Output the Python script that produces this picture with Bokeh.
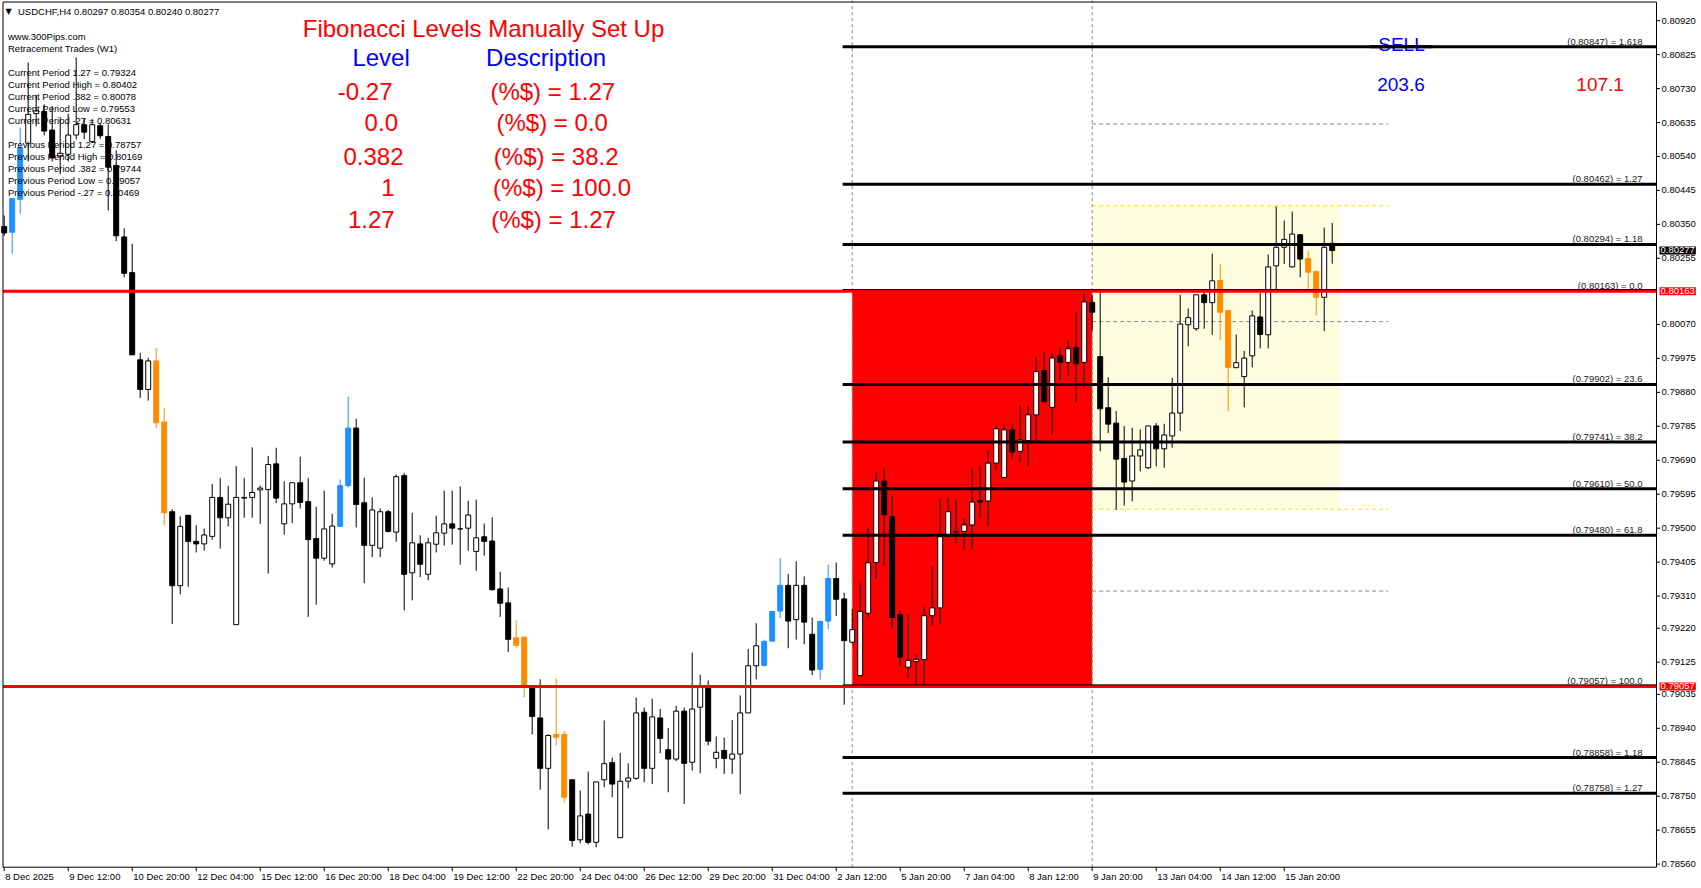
import numpy as np
from bokeh.plotting import figure
from bokeh.models import Range1d, Label, ColumnDataSource
from bokeh.embed import file_html
from bokeh.resources import INLINE

# ---------------- data ----------------
opens = [0.80344, 0.80328, 0.80420, 0.80577, 0.80660, 0.80666, 0.80614, 0.80541, 0.80546, 0.80600,
         0.80629, 0.80582, 0.80626, 0.80596, 0.80515, 0.80315, 0.80215, 0.79971, 0.79888, 0.79968,
         0.79797, 0.79546, 0.79339, 0.79536, 0.79463, 0.79456, 0.79477, 0.79586, 0.79529, 0.79230,
         0.79584, 0.79586, 0.79607, 0.79608, 0.79680, 0.79512, 0.79568, 0.79627, 0.79574, 0.79471,
         0.79416, 0.79400, 0.79505, 0.79619, 0.79780, 0.79571, 0.79452, 0.79444, 0.79546, 0.79489,
         0.79647, 0.79375, 0.79456, 0.79371, 0.79455, 0.79486, 0.79512, 0.79498, 0.79500, 0.79435,
         0.79476, 0.79464, 0.79330, 0.79291, 0.79193, 0.79195, 0.79055, 0.78969, 0.78828, 0.78923,
         0.78923, 0.78796, 0.78628, 0.78700, 0.78621, 0.78796, 0.78844, 0.78634, 0.78792, 0.78800,
         0.78985, 0.78828, 0.78969, 0.78880, 0.78854, 0.78988, 0.78845, 0.78999, 0.79055, 0.78856,
         0.78878, 0.78854, 0.78868, 0.78983, 0.79115, 0.79116, 0.79184, 0.79268, 0.79340, 0.79244,
         0.79340, 0.79203, 0.79105, 0.79240, 0.79359, 0.79302, 0.79181, 0.79088, 0.79262, 0.79404,
         0.79632, 0.79532, 0.79258, 0.79111, 0.79127, 0.79132, 0.79255, 0.79277, 0.79476, 0.79491,
         0.79491, 0.79509, 0.79577, 0.79576, 0.79682, 0.79642, 0.79775, 0.79715, 0.79745, 0.79817,
         0.79941, 0.79838, 0.79982, 0.79964, 0.80005, 0.79964, 0.80132, 0.79980, 0.79837, 0.79794,
         0.79695, 0.79632, 0.79702, 0.79669, 0.79786, 0.79722, 0.79758, 0.79822, 0.80069, 0.80058,
         0.80153, 0.80131, 0.80193, 0.80109, 0.79949, 0.79924, 0.79982, 0.80091, 0.80041, 0.80234,
         0.80286, 0.80231, 0.80321, 0.80254, 0.80218, 0.80146, 0.80297]
highs = [0.80375, 0.80422, 0.80621, 0.80803, 0.80712, 0.80686, 0.80681, 0.80650, 0.80660, 0.80817,
         0.80645, 0.80645, 0.80634, 0.80629, 0.80557, 0.80339, 0.80296, 0.79991, 0.79976, 0.80005,
         0.79836, 0.79553, 0.79533, 0.79536, 0.79508, 0.79499, 0.79624, 0.79640, 0.79618, 0.79674,
         0.79640, 0.79726, 0.79619, 0.79702, 0.79725, 0.79631, 0.79627, 0.79700, 0.79640, 0.79560,
         0.79605, 0.79540, 0.79636, 0.79868, 0.79806, 0.79641, 0.79586, 0.79555, 0.79551, 0.79650,
         0.79655, 0.79543, 0.79480, 0.79473, 0.79535, 0.79605, 0.79605, 0.79617, 0.79577, 0.79580,
         0.79513, 0.79530, 0.79378, 0.79334, 0.79242, 0.79197, 0.79057, 0.79077, 0.78923, 0.79080,
         0.78932, 0.78796, 0.78766, 0.78819, 0.78790, 0.78962, 0.78858, 0.78871, 0.78842, 0.79026,
         0.78998, 0.79023, 0.78994, 0.78941, 0.79003, 0.78998, 0.79152, 0.79090, 0.79074, 0.78917,
         0.78914, 0.78963, 0.79032, 0.79162, 0.79234, 0.79188, 0.79267, 0.79416, 0.79372, 0.79407,
         0.79365, 0.79250, 0.79242, 0.79398, 0.79404, 0.79319, 0.79274, 0.79346, 0.79502, 0.79659,
         0.79667, 0.79589, 0.79270, 0.79258, 0.79146, 0.79279, 0.79392, 0.79583, 0.79585, 0.79580,
         0.79528, 0.79670, 0.79675, 0.79719, 0.79785, 0.79792, 0.79790, 0.79843, 0.79843, 0.79979,
         0.79991, 0.79991, 0.80003, 0.80025, 0.80104, 0.80156, 0.80151, 0.80169, 0.79922, 0.79828,
         0.79786, 0.79781, 0.79776, 0.79786, 0.79794, 0.79792, 0.79921, 0.80153, 0.80115, 0.80153,
         0.80165, 0.80268, 0.80238, 0.80109, 0.80042, 0.79996, 0.80109, 0.80158, 0.80266, 0.80400,
         0.80361, 0.80386, 0.80323, 0.80277, 0.80221, 0.80341, 0.80354]
lows = [0.80318, 0.80268, 0.80380, 0.80526, 0.80624, 0.80599, 0.80526, 0.80490, 0.80526, 0.80588,
        0.80588, 0.80577, 0.80589, 0.80389, 0.80303, 0.80202, 0.79985, 0.79864, 0.79857, 0.79779,
        0.79507, 0.79232, 0.79315, 0.79336, 0.79432, 0.79437, 0.79468, 0.79443, 0.79505, 0.79230,
        0.79529, 0.79529, 0.79512, 0.79373, 0.79570, 0.79482, 0.79514, 0.79555, 0.79252, 0.79286,
        0.79409, 0.79390, 0.79505, 0.79614, 0.79502, 0.79346, 0.79419, 0.79419, 0.79488, 0.79462,
        0.79270, 0.79298, 0.79363, 0.79354, 0.79432, 0.79451, 0.79454, 0.79398, 0.79437, 0.79381,
        0.79423, 0.79325, 0.79252, 0.79153, 0.79164, 0.79027, 0.78923, 0.78768, 0.78657, 0.78892,
        0.78733, 0.78609, 0.78618, 0.78615, 0.78607, 0.78775, 0.78747, 0.78634, 0.78772, 0.78796,
        0.78789, 0.78784, 0.78870, 0.78761, 0.78848, 0.78728, 0.78822, 0.78814, 0.78892, 0.78828,
        0.78812, 0.78812, 0.78756, 0.78983, 0.79077, 0.79113, 0.79184, 0.79248, 0.79164, 0.79188,
        0.79175, 0.79089, 0.79076, 0.79217, 0.79254, 0.79006, 0.79177, 0.79083, 0.79252, 0.79358,
        0.79395, 0.79218, 0.79113, 0.79081, 0.79060, 0.79060, 0.79227, 0.79232, 0.79476, 0.79458,
        0.79439, 0.79441, 0.79528, 0.79505, 0.79663, 0.79640, 0.79692, 0.79684, 0.79673, 0.79745,
        0.79852, 0.79762, 0.79913, 0.79927, 0.79852, 0.79891, 0.80053, 0.79715, 0.79766, 0.79551,
        0.79563, 0.79575, 0.79659, 0.79665, 0.79673, 0.79669, 0.79725, 0.79772, 0.80009, 0.80052,
        0.80058, 0.80041, 0.80026, 0.79827, 0.79949, 0.79838, 0.79950, 0.80003, 0.80003, 0.80165,
        0.80239, 0.80229, 0.80202, 0.80165, 0.80095, 0.80051, 0.80240]
closes = [0.80326, 0.80422, 0.80565, 0.80658, 0.80668, 0.80611, 0.80536, 0.80549, 0.80600, 0.80629,
          0.80608, 0.80629, 0.80598, 0.80510, 0.80318, 0.80213, 0.79985, 0.79888, 0.79968, 0.79795,
          0.79543, 0.79339, 0.79505, 0.79463, 0.79456, 0.79481, 0.79586, 0.79529, 0.79567, 0.79586,
          0.79586, 0.79600, 0.79612, 0.79678, 0.79584, 0.79568, 0.79627, 0.79572, 0.79468, 0.79416,
          0.79498, 0.79506, 0.79619, 0.79780, 0.79566, 0.79452, 0.79551, 0.79546, 0.79491, 0.79644,
          0.79371, 0.79459, 0.79399, 0.79459, 0.79487, 0.79512, 0.79500, 0.79498, 0.79537, 0.79473,
          0.79463, 0.79328, 0.79290, 0.79189, 0.79172, 0.79055, 0.78973, 0.78828, 0.78920, 0.78915,
          0.78747, 0.78626, 0.78695, 0.78621, 0.78790, 0.78841, 0.78784, 0.78792, 0.78801, 0.78983,
          0.78828, 0.78972, 0.78912, 0.78854, 0.78988, 0.78842, 0.78994, 0.79055, 0.78904, 0.78873,
          0.78856, 0.78868, 0.78983, 0.79115, 0.79171, 0.79183, 0.79267, 0.79340, 0.79240, 0.79340,
          0.79237, 0.79103, 0.79239, 0.79359, 0.79301, 0.79185, 0.79216, 0.79267, 0.79403, 0.79632,
          0.79538, 0.79250, 0.79139, 0.79130, 0.79133, 0.79255, 0.79277, 0.79476, 0.79546, 0.79489,
          0.79509, 0.79573, 0.79573, 0.79682, 0.79778, 0.79775, 0.79713, 0.79747, 0.79817, 0.79938,
          0.79854, 0.79976, 0.79964, 0.80002, 0.79960, 0.80133, 0.80104, 0.79834, 0.79791, 0.79693,
          0.79629, 0.79702, 0.79719, 0.79786, 0.79722, 0.79761, 0.79822, 0.80071, 0.80089, 0.80153,
          0.80131, 0.80192, 0.80104, 0.79950, 0.79963, 0.79976, 0.80094, 0.80042, 0.80231, 0.80286,
          0.80308, 0.80323, 0.80253, 0.80216, 0.80146, 0.80286, 0.80277]

# bars drawn in the highlight colours (blue when rising, orange when falling)
highlight_bars = [1, 2, 19, 20, 42, 43, 64, 65, 69, 70, 95, 96, 97, 102, 103, 152, 153, 163, 164]

date_label_bars = list(range(0, 161, 8))
date_labels = ["8 Dec 2025", "9 Dec 12:00", "10 Dec 20:00", "12 Dec 04:00", "15 Dec 12:00",
               "16 Dec 20:00", "18 Dec 04:00", "19 Dec 12:00", "22 Dec 20:00", "24 Dec 04:00",
               "26 Dec 12:00", "29 Dec 20:00", "31 Dec 04:00", "2 Jan 12:00", "5 Jan 20:00",
               "7 Jan 04:00", "8 Jan 12:00", "9 Jan 20:00", "13 Jan 04:00", "14 Jan 12:00",
               "15 Jan 20:00"]

price_ticks = [0.80920, 0.80825, 0.80730, 0.80635, 0.80540, 0.80445, 0.80350, 0.80255,
               0.80070, 0.79975, 0.79880, 0.79785, 0.79690, 0.79595, 0.79500, 0.79405,
               0.79310, 0.79220, 0.79125, 0.79035, 0.78940, 0.78845, 0.78750, 0.78655, 0.78560]

fib_levels = [0.80847, 0.80462, 0.80294, 0.80163, 0.79902, 0.79741, 0.79610, 0.79480, 0.79057, 0.78858, 0.78758]
fib_names = ["1.618", "1.27", "1.18", "0.0", "23.6", "38.2", "50.0", "61.8", "100.0", "1.18", "1.27"]
fib_zero, fib_hundred = 0.80163, 0.79057

cur_names = ["1.27", "High", ".382", "Low", "-27"]
cur_values = [0.79324, 0.80402, 0.80078, 0.79553, 0.80631]
prev_names = ["1.27", "High", ".382", "Low", "-.27"]
prev_values = [0.78757, 0.80169, 0.79744, 0.79057, 0.80469]

table_levels = ["-0.27", "0.0", "0.382", "1", "1.27"]
table_desc = ["(%$) = 1.27", "(%$) = 0.0", "(%$) = 38.2", "(%$) = 100.0", "(%$) = 1.27"]

sell_values = ["203.6", "107.1"]
last_price = 0.80277

red_box_bars = [106, 136]      # bar anchors of the red zone
week_box_bars = [136, 167]     # current week zone
marker_end_bar = 173
fib_start_bar = 104.8
# ---------------------------------------------------------------

# canvas covers the terminal window 1:1 (the page has no margin)
CW, CH = 1700, 886
BAR0_PX, BAR_PX = 3.7, 8.0                 # x of first bar, bar spacing
PRICE_Y0, PRICE_PER_PX = 0.809764, 0.00002798


def px2bar(rx):
    return (rx - BAR0_PX) / BAR_PX


def py2price(ry):
    return PRICE_Y0 - ry * PRICE_PER_PX


def scr(rx, ry):
    return rx, CH - ry


X0, X1 = px2bar(0), px2bar(CW)
Y1, Y0 = py2price(0), py2price(CH)
AX = px2bar(1656)          # price-scale line
LB = px2bar(2.5)           # left border
PB = py2price(866.7)       # bottom border
PT = py2price(1.5)         # top border

p = figure(frame_width=CW, frame_height=CH, x_range=Range1d(X0, X1), y_range=Range1d(Y0, Y1),
           x_axis_location=None, y_axis_location=None, toolbar_location=None,
           output_backend="svg", min_border=0,
           background_fill_color="white", border_fill_color="white")
p.grid.visible = False
p.outline_line_color = None

SMALL = "9.5px"
FONT = "Liberation Sans"
BLUE = "#1E90FF"
ORANGE = "#FF8C00"

# zones behind the candles
p.quad(left=[week_box_bars[0]], right=[week_box_bars[1]], bottom=[cur_values[3]], top=[cur_values[1]],
       fill_color="#FFFDE0", line_color=None)
p.quad(left=[red_box_bars[0]], right=[red_box_bars[1]], bottom=[fib_hundred], top=[fib_zero],
       fill_color="#FF0000", line_color=None)

# current period markers
for name, v in zip(cur_names, cur_values):
    col = "#E8E800" if name in ("High", "Low") else "#888888"
    p.segment(x0=[week_box_bars[0]], x1=[marker_end_bar], y0=[v], y1=[v], line_color=col,
              line_width=1, line_dash="4 3")

# vertical dotted separators
for b in red_box_bars:
    p.segment(x0=[b], x1=[b], y0=[PB], y1=[Y1], line_color="#808080", line_dash="3 3", line_width=1)

# candles
O = np.array(opens); H = np.array(highs); L = np.array(lows); C = np.array(closes)
idx = np.arange(len(O))
bull = C >= O
hl = np.isin(idx, highlight_bars)
fill = np.where(hl, np.where(bull, BLUE, ORANGE), np.where(bull, "white", "black"))
line = np.where(hl, fill, "black")
src = ColumnDataSource(dict(x=idx, top=np.maximum(O, C), bottom=np.minimum(O, C), high=H, low=L,
                            fill=fill, line=line))
p.segment(x0="x", y0="low", x1="x", y1="high", line_color="line", line_width=1, source=src)
p.vbar(x="x", top="top", bottom="bottom", width=0.62, fill_color="fill", line_color="line",
       line_width=1, source=src)

# fibonacci lines (over the candles)
for lv in fib_levels:
    if lv in (fib_zero, fib_hundred):
        p.segment(x0=[LB], x1=[AX], y0=[lv], y1=[lv], line_color="#FF0000", line_width=3)
        p.segment(x0=[fib_start_bar], x1=[AX], y0=[lv + 1.6 * PRICE_PER_PX], y1=[lv + 1.6 * PRICE_PER_PX],
                  line_color="black", line_width=1)
    else:
        p.segment(x0=[fib_start_bar], x1=[AX], y0=[lv], y1=[lv], line_color="black", line_width=3)

# window borders and price scale line
p.segment(x0=[LB, LB, LB, AX], x1=[AX, AX, LB, AX], y0=[PT, PB, PB, PB], y1=[PT, PB, PT, PT],
          line_color="black", line_width=1)
# price scale ticks
tick_end = px2bar(1659.5)
p.segment(x0=[AX] * len(price_ticks), x1=[tick_end] * len(price_ticks), y0=price_ticks, y1=price_ticks,
          line_color="black", line_width=1)
# time scale ticks
tick_low = py2price(866.7 + 4)
p.segment(x0=date_label_bars, x1=date_label_bars, y0=[PB] * len(date_label_bars),
          y1=[tick_low] * len(date_label_bars), line_color="black", line_width=1)


def label(text, rx, ry, size=SMALL, color="black", align="left", baseline="middle", font=FONT):
    sx, sy = scr(rx, ry)
    p.add_layout(Label(x=sx, y=sy, x_units="screen", y_units="screen", text=text, text_font=font,
                       text_font_size=size, text_color=color, text_align=align,
                       text_baseline=baseline))


# price scale labels
lab_sx, _ = scr(1661, 0)
for t in price_ticks:
    p.add_layout(Label(x=lab_sx, x_units="screen", y=t, text=f"{t:.5f}", text_font=FONT,
                       text_font_size=SMALL, text_color="black", text_align="left",
                       text_baseline="middle"))

# time scale labels
_, date_sy = scr(0, 876)
for b, s in zip(date_label_bars, date_labels):
    p.add_layout(Label(x=b, y=date_sy, y_units="screen", text=s, text_font=FONT, text_font_size=SMALL,
                       text_color="black", text_align="left", text_baseline="middle", x_offset=1))

# fibonacci labels
fib_sx, _ = scr(1642, 0)
for lv, nm in zip(fib_levels, fib_names):
    p.add_layout(Label(x=fib_sx, x_units="screen", y=lv, text=f"({lv:.5f}) = {nm}", text_font=FONT,
                       text_font_size=SMALL, text_color="#1a1a1a", text_align="right",
                       text_baseline="bottom"))

# price tags on the scale
tag_sx, _ = scr(1659, 0)
for v, bg in ((fib_zero, "#FF0000"), (fib_hundred, "#FF0000"), (last_price, "black")):
    p.add_layout(Label(x=tag_sx, x_units="screen", y=v, text=f"{v:.5f}", text_font=FONT,
                       text_font_size=SMALL, text_color="white", text_align="left",
                       text_baseline="middle", background_fill_color=bg, padding=1))

# header and info block
label("\u25BC", 5, 11, size="8px", font="DejaVu Sans")
label(f"USDCHF,H4  {opens[-1]:.5f} {highs[-1]:.5f} {lows[-1]:.5f} {closes[-1]:.5f}", 17.5, 11)
label("www.300Pips.com", 7.5, 35.7)
label("Retracement Trades (W1)", 7.5, 47.7)
for i, (n, v) in enumerate(zip(cur_names, cur_values)):
    label(f"Current Period {n} = {v:.5f}", 7.5, 71.7 + 12 * i)
for i, (n, v) in enumerate(zip(prev_names, prev_values)):
    label(f"Previous Period {n} = {v:.5f}", 7.5, 143.7 + 12 * i)

BIG = "24px"
label("Fibonacci Levels Manually Set Up", 483, 28.3, size=BIG, color="#FF0000", align="center")
label("Level", 380.6, 57.3, size=BIG, color="#0000FF", align="center")
label("Description", 545.6, 57.3, size=BIG, color="#0000FF", align="center")
lvl_x = [364.7, 380.8, 373.0, 387.4, 370.8]
desc_x = [552.3, 551.7, 555.7, 561.5, 553.0]
row_y = [90.7, 121.7, 155.7, 186.7, 219.3]
for t, d, lx, dx, ry in zip(table_levels, table_desc, lvl_x, desc_x, row_y):
    label(t, lx, ry, size=BIG, color="#FF0000", align="center")
    label(d, dx, ry, size=BIG, color="#FF0000", align="center")

label("SELL", 1401, 43.5, size="19px", color="#0000FF", align="center")
label(sell_values[0], 1400.5, 84, size="19px", color="#0000FF", align="center")
label(sell_values[1], 1599.6, 84, size="19px", color="#FF0000", align="center")

# the 1.618 line crosses the SELL word: redraw that line piece on top of it
sell_line = p.segment(x0=[px2bar(1370)], x1=[px2bar(1432)], y0=[fib_levels[0]], y1=[fib_levels[0]],
                      line_color="black", line_width=3)
sell_line.level = "overlay"

open("out.html", "w").write(file_html(p, INLINE))
